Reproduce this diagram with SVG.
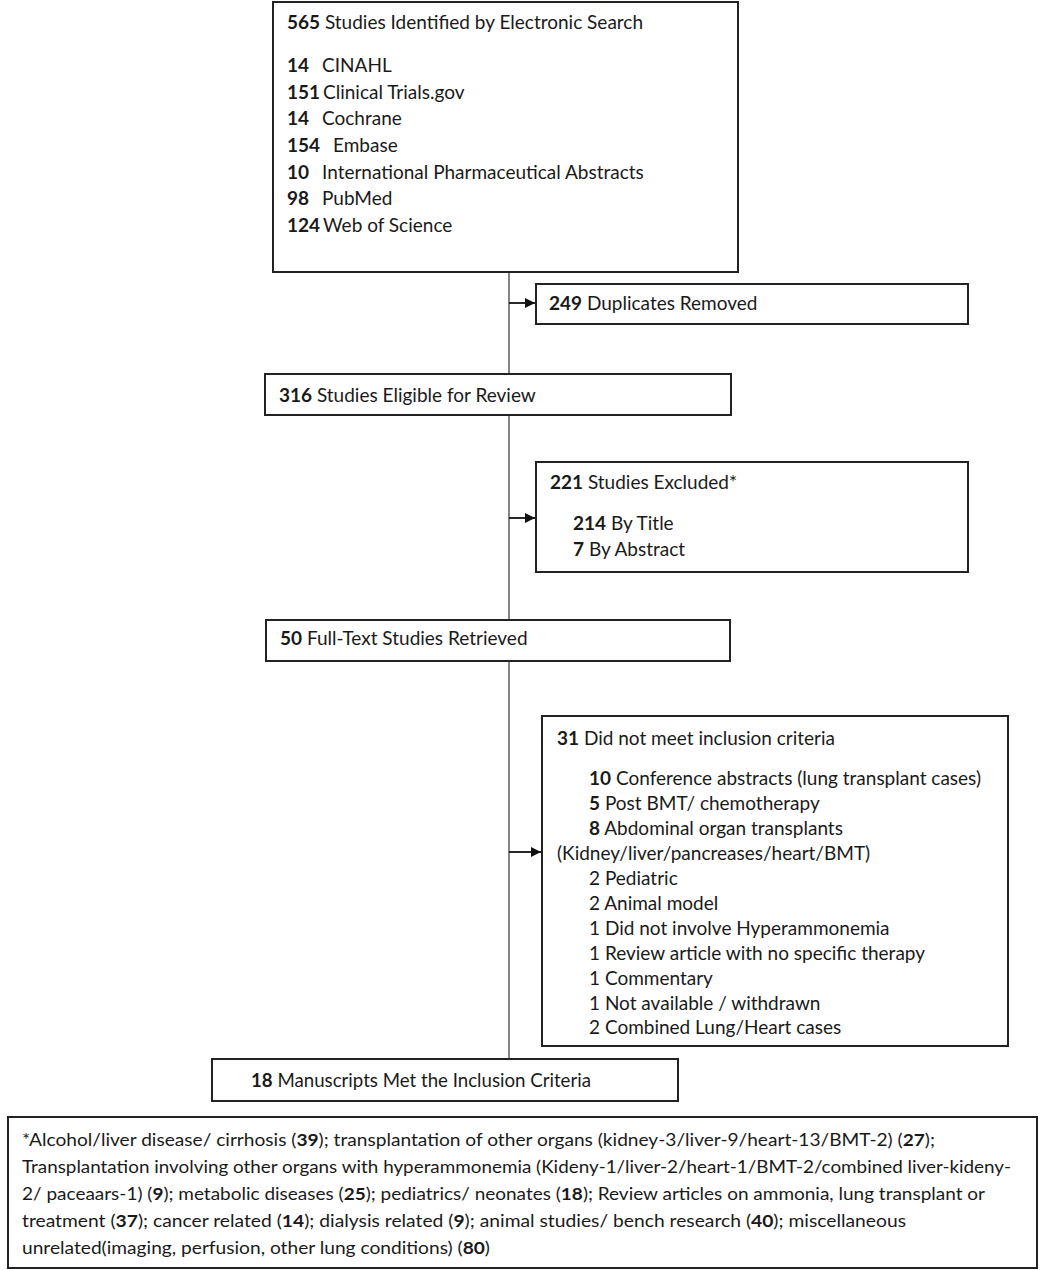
<svg xmlns="http://www.w3.org/2000/svg" width="1045" height="1270" viewBox="0 0 1045 1270">
<style>
text{font-family:Lato,"Liberation Sans",sans-serif;font-size:19px;fill:#1a1a1a}
.b{font-weight:bold}
.box{fill:#fff;stroke:#222;stroke-width:2}
.ln{stroke:#444;stroke-width:1.3;fill:none}
.ar{stroke:#111;stroke-width:1.8;fill:none}
.fn{font-size:17px}
</style>
<defs>
<marker id="ah" markerWidth="12" markerHeight="12" refX="10" refY="6" orient="auto" markerUnits="userSpaceOnUse">
<path d="M0,1 L10,6 L0,11 Z" fill="#111"/>
</marker>
</defs>
<rect width="1045" height="1270" fill="#fff"/>
<g id="connectors">
<line class="ln" x1="509" y1="272" x2="509" y2="1059"/>
<line class="ar" x1="509" y1="303" x2="535" y2="303" marker-end="url(#ah)"/>
<line class="ar" x1="509" y1="518" x2="535" y2="518" marker-end="url(#ah)"/>
<line class="ar" x1="509" y1="852" x2="541" y2="852" marker-end="url(#ah)"/>
</g>
<g id="n-search">
<rect class="box" x="273" y="2" width="465" height="270"/>
<text x="287" y="29"><tspan class="b">565</tspan> Studies Identified by Electronic Search</text>
<text x="287" y="72" class="b">14</text><text x="322" y="72">CINAHL</text>
<text x="287" y="99" class="b">151</text><text x="323" y="99">Clinical Trials.gov</text>
<text x="287" y="125" class="b">14</text><text x="322" y="125">Cochrane</text>
<text x="287" y="152" class="b">154</text><text x="333" y="152">Embase</text>
<text x="287" y="179" class="b">10</text><text x="322" y="179">International Pharmaceutical Abstracts</text>
<text x="287" y="205" class="b">98</text><text x="322" y="205">PubMed</text>
<text x="287" y="232" class="b">124</text><text x="323" y="232">Web of Science</text>
</g>
<g id="n-dup">
<rect class="box" x="536" y="284" width="432" height="40"/>
<text x="549" y="310"><tspan class="b">249</tspan> Duplicates Removed</text>
</g>
<g id="n-eligible">
<rect class="box" x="265" y="374" width="466" height="41"/>
<text x="279" y="402"><tspan class="b">316</tspan> Studies Eligible for Review</text>
</g>
<g id="n-excluded">
<rect class="box" x="536" y="462" width="432" height="110"/>
<text x="550" y="489"><tspan class="b">221</tspan> Studies Excluded*</text>
<text x="573" y="530"><tspan class="b">214</tspan> By Title</text>
<text x="573" y="556"><tspan class="b">7</tspan> By Abstract</text>
</g>
<g id="n-fulltext">
<rect class="box" x="266" y="620" width="464" height="41"/>
<text x="280" y="645"><tspan class="b">50</tspan> Full-Text Studies Retrieved</text>
</g>
<g id="n-notmet">
<rect class="box" x="542" y="716" width="466" height="330"/>
<text x="557" y="745"><tspan class="b">31</tspan> Did not meet inclusion criteria</text>
<text x="589" y="785"><tspan class="b">10</tspan> Conference abstracts (lung transplant cases)</text>
<text x="589" y="810"><tspan class="b">5</tspan> Post BMT/ chemotherapy</text>
<text x="589" y="835"><tspan class="b">8</tspan> Abdominal organ transplants</text>
<text x="557" y="860">(Kidney/liver/pancreases/heart/BMT)</text>
<text x="589" y="885">2 Pediatric</text>
<text x="589" y="910">2 Animal model</text>
<text x="589" y="935">1 Did not involve Hyperammonemia</text>
<text x="589" y="960">1 Review article with no specific therapy</text>
<text x="589" y="985">1 Commentary</text>
<text x="589" y="1010">1 Not available / withdrawn</text>
<text x="589" y="1034">2 Combined Lung/Heart cases</text>
</g>
<g id="n-met">
<rect class="box" x="212" y="1059" width="466" height="42"/>
<text x="251" y="1087" textLength="340" lengthAdjust="spacingAndGlyphs"><tspan class="b">18</tspan> Manuscripts Met the Inclusion Criteria</text>
</g>
<g id="n-footnote">
<rect class="box" x="8" y="1117" width="1029" height="151" stroke-width="1.5"/>
<text class="fn" x="22" y="1146" textLength="913" lengthAdjust="spacingAndGlyphs">*Alcohol/liver disease/ cirrhosis (<tspan class="b">39</tspan>); transplantation of other organs (kidney-3/liver-9/heart-13/BMT-2) (<tspan class="b">27</tspan>);</text>
<text class="fn" x="22" y="1173" textLength="989" lengthAdjust="spacingAndGlyphs">Transplantation involving other organs with hyperammonemia (Kideny-1/liver-2/heart-1/BMT-2/combined liver-kideny-</text>
<text class="fn" x="22" y="1200" textLength="963" lengthAdjust="spacingAndGlyphs">2/ paceaars-1) (<tspan class="b">9</tspan>); metabolic diseases (<tspan class="b">25</tspan>); pediatrics/ neonates (<tspan class="b">18</tspan>); Review articles on ammonia, lung transplant or</text>
<text class="fn" x="22" y="1227" textLength="884" lengthAdjust="spacingAndGlyphs">treatment (<tspan class="b">37</tspan>); cancer related (<tspan class="b">14</tspan>); dialysis related (<tspan class="b">9</tspan>); animal studies/ bench research (<tspan class="b">40</tspan>); miscellaneous</text>
<text class="fn" x="22" y="1254" textLength="468" lengthAdjust="spacingAndGlyphs">unrelated(imaging, perfusion, other lung conditions) (<tspan class="b">80</tspan>)</text>
</g>
</svg>
